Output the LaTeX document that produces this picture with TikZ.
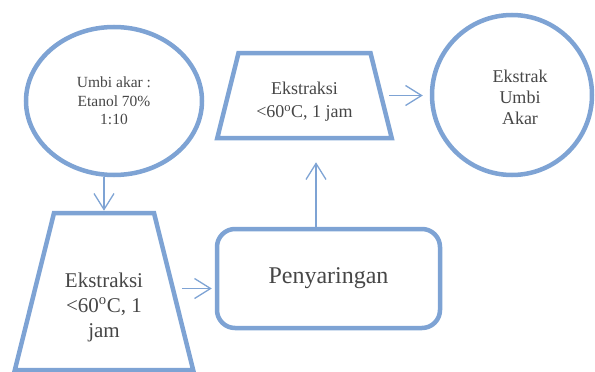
\documentclass[tikz,border=0pt]{standalone}
\usepackage{fontspec}
\setmainfont{Liberation Serif}
\usetikzlibrary{shapes.geometric,arrows.meta}
\definecolor{flowblue}{RGB}{126,163,212}
\definecolor{textgrey}{RGB}{70,70,70}
\begin{document}
\begin{tikzpicture}[
	x=1pt, y=-1pt,
	every node/.style={text=textgrey, align=center},
	blueoval/.style={shape=ellipse, draw=flowblue, line width=4.5pt, inner sep=0pt},
	bluetrap/.style={shape=trapezium, trapezium left angle=76, trapezium right angle=76, draw=flowblue, line width=4.5pt},
	bluebox/.style={shape=rectangle, rounded corners=18pt, draw=flowblue, line width=4.5pt},
	flow/.style={draw=flowblue, line width=1.3pt, -{Straight Barb[length=16pt,width=20pt]}},
]
\useasboundingbox (0,0) rectangle (595,372);

% bahan awal
\node[blueoval, minimum width=176pt, minimum height=148pt, font=\fontsize{15.5}{18.5}\selectfont] (umbi) at (114,101) {Umbi akar :\\Etanol 70\%\\1:10};

% ekstraksi pertama
\node[bluetrap, inner xsep=50pt, inner ysep=78.5pt,
	label={[yshift=-15.5pt, font=\fontsize{21}{25}\selectfont]center:{Ekstraksi\\<60\textsuperscript{o}C, 1\\jam}}] (ekstr1) at (104,291.5) {};

% penyaringan
\node[bluebox, minimum width=223pt, minimum height=99pt, font=\fontsize{24}{28}\selectfont] (saring) at (328.5,278.5) {Penyaringan};

% ekstraksi kedua
\node[bluetrap, inner xsep=66pt, inner ysep=42.5pt,
	label={[yshift=-6pt, font=\fontsize{18}{23}\selectfont]center:{Ekstraksi\\<60\textsuperscript{o}C, 1 jam}}] (ekstr2) at (304.5,95.5) {};

% hasil
\node[shape=circle, draw=flowblue, line width=4.5pt, minimum size=160pt, inner sep=0pt,
	label={[xshift=8pt, yshift=-2pt, font=\fontsize{18}{21}\selectfont]center:{Ekstrak\\Umbi\\Akar}}] (hasil) at (512,95) {};

\draw[flow] (umbi.south -| ekstr1.north) -- (ekstr1.north);
\draw[flow, shorten >=3pt] ([xshift=6pt, yshift=3pt]ekstr1.east) -- ([yshift=3pt]ekstr1.east -| saring.west);
\draw[flow, shorten >=22pt] ([xshift=-12.5pt]saring.north) -- ([xshift=-12.5pt]saring.north |- ekstr2.south);
\draw[flow, shorten >=7pt] ([xshift=6pt]ekstr2.east) -- (ekstr2.east -| hasil.west);
\end{tikzpicture}
\end{document}
